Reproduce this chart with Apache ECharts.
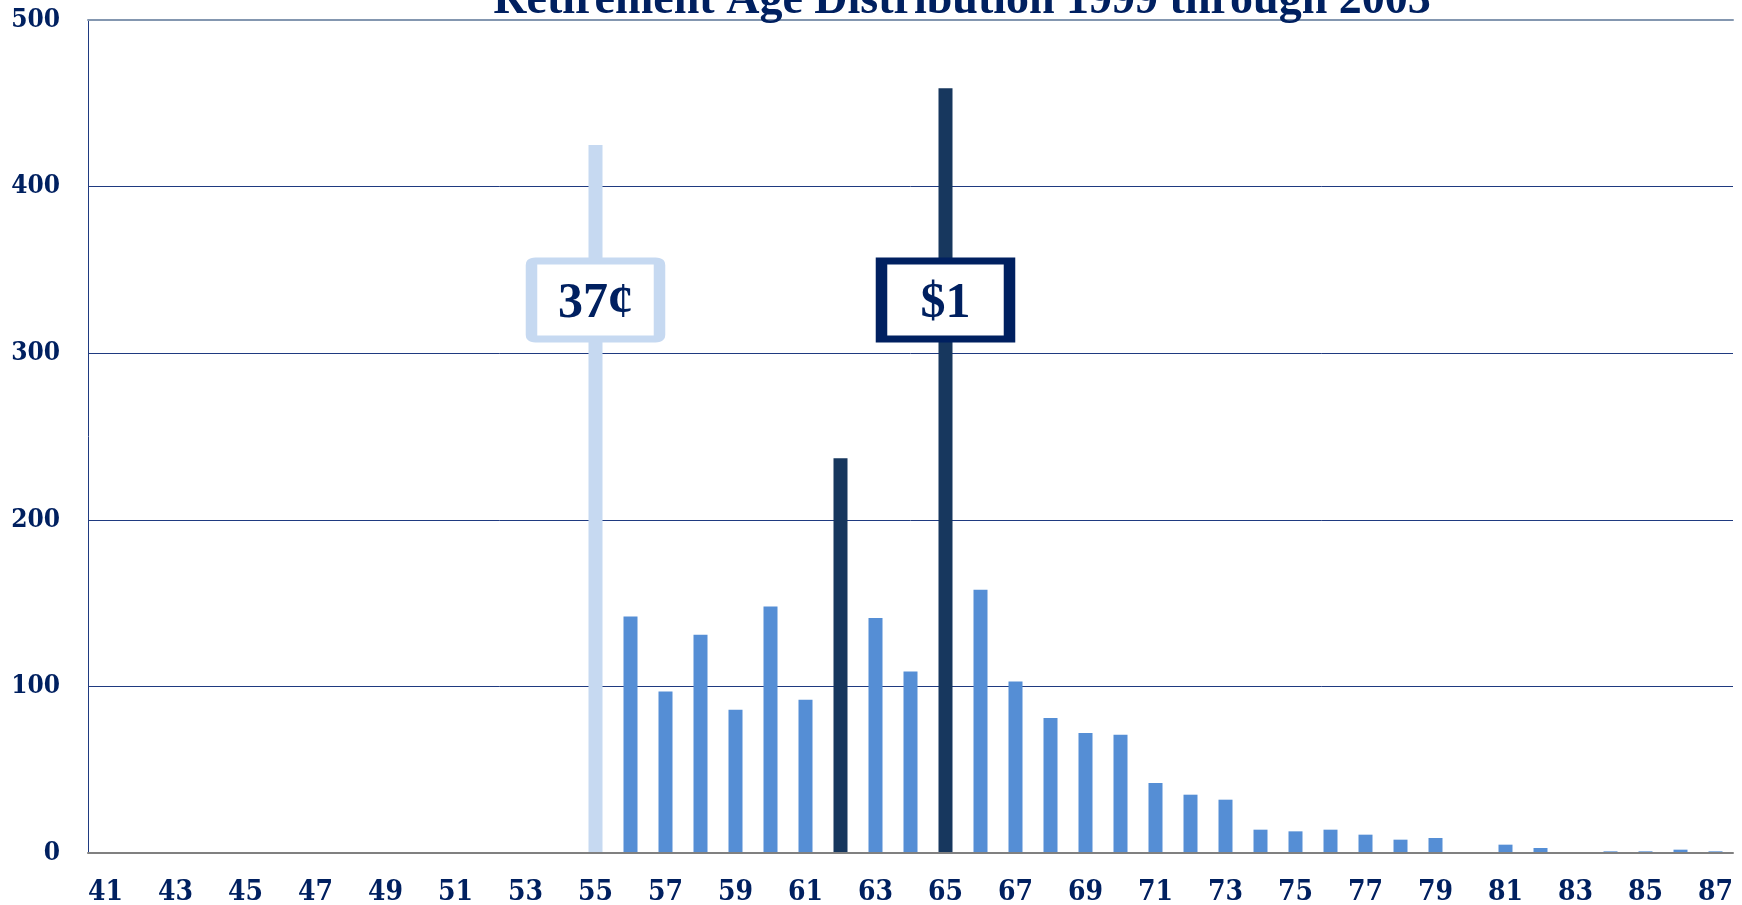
<!DOCTYPE html>
<html>
<head>
<meta charset="utf-8">
<title>Retirement Age Distribution 1999 through 2003</title>
<script src="https://cdn.jsdelivr.net/npm/echarts@6.0.0/dist/echarts.min.js"></script>
<style>
  html, body { margin: 0; padding: 0; background: #fff; }
  #chart { width: 1742px; height: 905px; }
</style>
</head>
<body>
<div id="chart"></div>
<script>
// retirement age (x categories)
var ages = ['41', '42', '43', '44', '45', '46', '47', '48', '49', '50',
  '51', '52', '53', '54', '55', '56', '57', '58', '59', '60',
  '61', '62', '63', '64', '65', '66', '67', '68', '69', '70',
  '71', '72', '73', '74', '75', '76', '77', '78', '79', '80',
  '81', '82', '83', '84', '85', '86', '87']

// number of retirements at each age
var retirees = [0, 0, 0, 0, 0, 0, 0, 0, 0, 0,
  0, 0, 0, 0, 425, 142, 97, 131, 86, 148,
  92, 237, 141, 109, 459, 158, 103, 81, 72, 71,
  42, 35, 32, 14, 13, 14, 11, 8, 9, 0,
  5, 3, 0, 1, 1, 2, 1]

var yTicks = [0, 100, 200, 300, 400, 500]

// highlighted ages
var lightAges = ['55']
var darkAges = ['62', '65']

// callout boxes: age, height on the value axis, text
var calloutAges = ['55', '65']
var calloutLevels = [332, 332]
var calloutTexts = ['37¢', '$1']

var NAVY = '#002060'
var SERIF = '"Liberation Serif", "DejaVu Serif", serif'
var TICK_FONT = '"DejaVu Serif Condensed", "DejaVu Serif", serif'
// box outline, slightly rounded for the light callout
var ROUND_BOX = 'path://M4 0H124Q128 0 128 4V74Q128 78 124 78H4Q0 78 0 74V4Q0 0 4 0Z'

var chart = echarts.init(document.getElementById('chart'))

var calloutData = calloutAges.map(function(age, i) {
  var light = lightAges.indexOf(age) > -1
  return {
    value: [age, calloutLevels[i]],
    symbol: light ? ROUND_BOX : 'rect',
    itemStyle: { borderColor: light ? '#c6d9f1' : NAVY },
    label: { formatter: calloutTexts[i] }
  }
})

chart.setOption({
  animation: false,
  backgroundColor: '#fff',
  graphic: [
    {
      type: 'text',
      x: 962,
      y: 1,
      z: 10,
      style: {
        text: 'Retirement Age Distribution 1999 through 2003',
        font: 'bold 46px ' + SERIF,
        fill: NAVY,
        align: 'center',
        verticalAlign: 'middle'
      }
    }
  ],
  grid: {
    left: 88,
    right: 9,
    top: 20,
    bottom: 52,
    outerBoundsMode: 'none'
  },
  xAxis: [
    {
      type: 'category',
      data: ages,
      z: 3,
      axisLine: {
        onZero: false,
        lineStyle: { color: '#808080', width: 2 }
      },
      axisTick: {
        interval: 0,
        length: 9,
        lineStyle: { color: '#595959' }
      },
      axisLabel: {
        interval: 1,
        margin: 26,
        color: NAVY,
        fontFamily: TICK_FONT,
        fontWeight: 'bold',
        fontSize: 28
      }
    },
    {
      // plot area top edge
      type: 'category',
      position: 'top',
      data: ages,
      z: 3,
      axisLine: {
        onZero: false,
        lineStyle: { color: '#8497b0', width: 2 }
      },
      axisTick: { show: false },
      axisLabel: { show: false }
    }
  ],
  yAxis: {
    type: 'value',
    min: yTicks[0],
    max: yTicks[yTicks.length - 1],
    interval: 100,
    axisLine: {
      show: true,
      lineStyle: { color: '#1f3a80', width: 1 }
    },
    axisTick: { show: false },
    splitLine: {
      showMinLine: false,
      showMaxLine: false,
      lineStyle: { color: '#1f3a80', width: 1 }
    },
    axisLabel: {
      margin: 28,
      color: NAVY,
      fontFamily: TICK_FONT,
      fontWeight: 'bold',
      fontSize: 26
    }
  },
  series: [
    {
      name: 'Retirements',
      type: 'bar',
      barWidth: 14,
      data: retirees,
      silent: true,
      itemStyle: {
        color: function(p) {
          if (lightAges.indexOf(p.name) > -1) return '#c6d9f1'
          if (darkAges.indexOf(p.name) > -1) return '#17375e'
          return '#558ed5'
        }
      }
    },
    {
      name: 'Callouts',
      type: 'scatter',
      z: 5,
      silent: true,
      symbolSize: [128, 78],
      itemStyle: {
        color: '#fff',
        borderWidth: 9,
        opacity: 1
      },
      label: {
        show: true,
        position: 'inside',
        offset: [0, 4],
        color: NAVY,
        fontFamily: SERIF,
        fontWeight: 'bold',
        fontSize: 50
      },
      data: calloutData
    }
  ]
})
</script>
</body>
</html>
